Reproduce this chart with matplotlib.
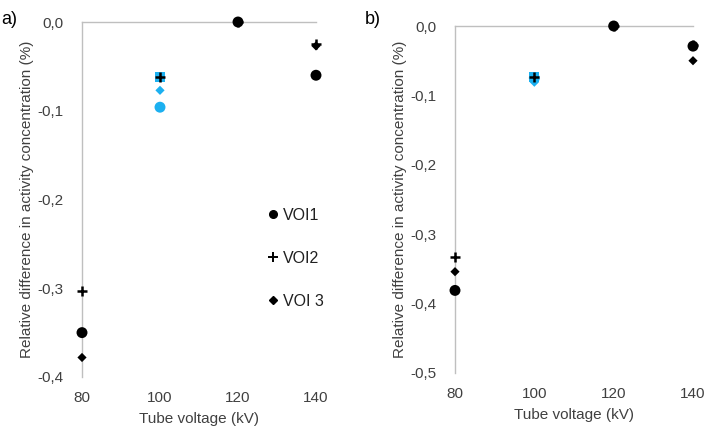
import matplotlib.pyplot as plt
import matplotlib.lines as mlines

plt.rcParams['font.family'] = ['Liberation Sans', 'DejaVu Sans']

kv = [80, 100, 120, 140]
xticks = [80, 100, 120, 140]

# panel a values (%)
a_voi1 = [-0.350, -0.096, 0.0, -0.060]
a_voi2 = [-0.303, -0.062, 0.0, -0.025]
a_voi3 = [-0.378, -0.077, 0.0, -0.027]

# panel b values (%)
b_voi1 = [-0.381, -0.075, 0.0, -0.029]
b_voi2 = [-0.333, -0.074, 0.0, -0.028]
b_voi3 = [-0.354, -0.081, 0.0, -0.050]

a_yticks = [0.0, -0.1, -0.2, -0.3, -0.4]
b_yticks = [0.0, -0.1, -0.2, -0.3, -0.4, -0.5]

black = 'black'
cyan = '#1cb0f0'
grey = '#bfbfbf'
hl = 1  # index of the highlighted 100 kV points


def cols(n):
    return [cyan if i == hl else black for i in range(n)]


def draw(ax, v1, v2, v3, yticks):
    c = cols(len(kv))
    ax.scatter(kv, v1, marker='o', s=62, c=c, linewidths=0, zorder=3)
    ax.scatter(kv, v3, marker='D', s=22, c=c, linewidths=0, zorder=4)
    ax.scatter([kv[hl]], [v2[hl]], marker='s', s=42, c=cyan, linewidths=0, zorder=4)
    ax.scatter(kv, v2, marker='+', s=55, c=black, linewidths=1.8, zorder=5)
    ax.set_xlim(80, 140)
    ax.set_ylim(min(yticks), 0)
    ax.set_xticks(xticks)
    ax.set_yticks(yticks)
    ax.set_yticklabels([('%.1f' % t).replace('.', ',').replace('-0,0', '0,0') for t in yticks])
    for s in ['right', 'bottom']:
        ax.spines[s].set_visible(False)
    for s in ['left', 'top']:
        ax.spines[s].set_color(grey)
        ax.spines[s].set_linewidth(1.0)
    ax.tick_params(length=0, labelsize=11, colors='#404040')
    ax.tick_params(axis='y', pad=13)
    ax.tick_params(axis='x', pad=10)
    ax.set_xlabel('Tube voltage (kV)', fontsize=11, color='#404040', labelpad=5)
    ax.set_ylabel('Relative difference in activity concentration (%)', fontsize=11,
                  color='#404040', labelpad=3)
    for col in ax.collections:
        col.set_clip_on(False)


fig = plt.figure(figsize=(7.09, 4.28), dpi=100)
ax1 = fig.add_axes([82 / 709, 51 / 428, 234 / 709, 355 / 428])
ax2 = fig.add_axes([455 / 709, 55 / 428, 238 / 709, 347 / 428])

draw(ax1, a_voi1, a_voi2, a_voi3, a_yticks)
draw(ax2, b_voi1, b_voi2, b_voi3, b_yticks)

h1 = mlines.Line2D([], [], color=black, marker='o', linestyle='None', markersize=5.5)
h2 = mlines.Line2D([], [], color=black, marker='+', linestyle='None', markersize=7, mew=1.4)
h3 = mlines.Line2D([], [], color=black, marker='D', linestyle='None', markersize=4)
ax1.legend([h1, h2, h3], ['VOI1', 'VOI2', 'VOI 3'], frameon=False, fontsize=11.5,
           loc='upper left', bbox_to_anchor=(0.77, 0.495), labelspacing=1.75,
           handlelength=0.6, handletextpad=0.3, borderaxespad=0, labelcolor='#202020')

fig.text(0.002, 0.975, 'a)', fontsize=13, va='top', ha='left')
fig.text(0.515, 0.975, 'b)', fontsize=13, va='top', ha='left')

fig.savefig('out.png', dpi=100)
